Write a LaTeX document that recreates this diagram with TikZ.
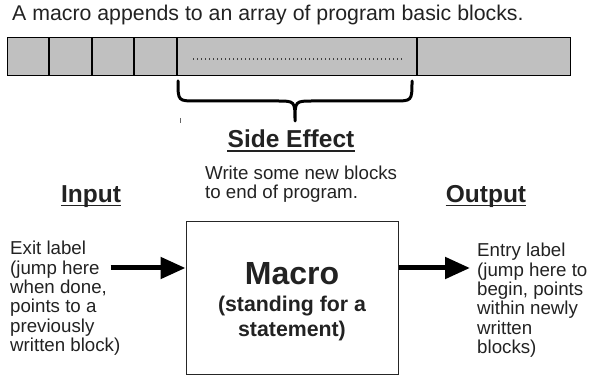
\documentclass[tikz,border=0pt]{standalone}
\usepackage{fontspec}
\setmainfont{Liberation Sans}
\usetikzlibrary{arrows.meta}
\definecolor{txt}{HTML}{222222}
\definecolor{barfill}{HTML}{C0C0C0}
\begin{document}
\begin{tikzpicture}[x=1pt,y=-1pt,
  body/.style={inner sep=0pt, anchor=base west, text=txt, font=\fontsize{18.7}{19.3}\selectfont},
  head/.style={inner sep=0pt, anchor=base, text=txt, font=\bfseries\fontsize{24.5}{28}\selectfont},
  uline/.style={line width=1.8pt, txt},
  bigarrow/.style={line width=5pt, black, -{Triangle[length=25pt,width=21pt]}},
  divider/.style={line width=2pt, black},
  bracestyle/.style={line width=3pt, black, line cap=round, line join=round}]
\useasboundingbox (0,0) rectangle (589,379);
% title
\node[body, font=\fontsize{21.3}{24}\selectfont] (title) at (12,21) {A macro appends to an array of program basic blocks.};
% array of blocks
\filldraw[fill=barfill, draw=black, line width=0.9pt] (7.3,37.3) rectangle (570,75.7);
\foreach \x in {49.3,91.7,134.3,176.7,416.7} \draw[divider] (\x,37.3) -- (\x,75.7);
\draw[line width=1.3pt, black!75, dash pattern=on 1.3pt off 2.7pt] (193,59) -- (403,59);
% brace
\draw[bracestyle] (178,81) .. controls (178,101) .. (196,101) -- (277,101)
  .. controls (295,101) .. (295,121) .. controls (295,101) .. (313,101) -- (394,101)
  .. controls (412,101) .. (412,81);
\draw[black!60, line width=0.8pt] (180,118) -- (180,123);
% side effect
\node[head] (side) at (291,148) {Side Effect};
\draw[uline] ([yshift=-2.8pt]side.base west) -- ([yshift=-2.8pt]side.base east);
\node[body, font=\fontsize{18.7}{18.5}\selectfont] (sidetext) at (205,180) {\parbox[t]{250pt}{\raggedright Write some new blocks\\to end of program.}};
% input / output headings
\node[head] (input) at (91,203) {Input};
\draw[uline] ([yshift=-2.5pt]input.base west) -- ([yshift=-2.5pt]input.base east);
\node[head] (output) at (486,203) {Output};
\draw[uline] ([yshift=-2.5pt]output.base west) -- ([yshift=-2.5pt]output.base east);
% side texts
\node[body] (exit) at (10,255) {\parbox[t]{170pt}{\raggedright Exit label\\(jump here\\when done,\\points to a\\previously\\written block)}};
\node[body] (entry) at (477,257) {\parbox[t]{112pt}{\raggedright Entry label\\(jump here to\\begin, points\\within newly\\written\\blocks)}};
% macro box
\node[draw=black!85, line width=1pt, minimum width=212pt, minimum height=152pt, inner sep=0pt] (macro) at (292,298) {};
\node[inner sep=0pt, anchor=base, text=txt, font=\bfseries\fontsize{32}{36}\selectfont] (mtitle) at (292,285) {Macro};
\node[inner sep=0pt, anchor=base, text=txt, font=\bfseries\fontsize{21.3}{25}\selectfont] (msub) at (292,312) {\parbox[t]{200pt}{\centering (standing for a\\statement)}};
% arrows
\coordinate (inStart) at (110.7,268);
\draw[bigarrow] (inStart) -- (inStart -| macro.west);
\coordinate (outEnd) at (470,268);
\draw[bigarrow] (outEnd -| macro.east) -- (outEnd);
\end{tikzpicture}
\end{document}
